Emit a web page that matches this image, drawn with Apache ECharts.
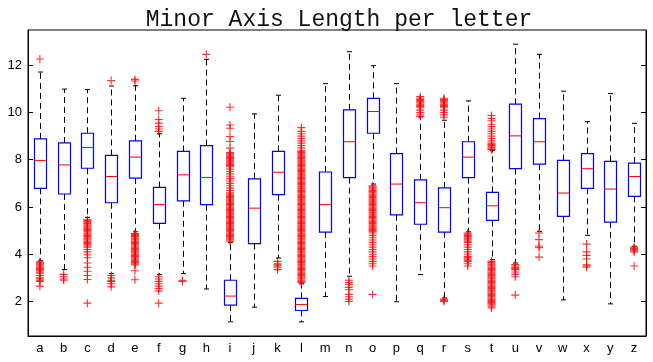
<!DOCTYPE html>
<html>
<head>
<meta charset="utf-8">
<script src="https://cdn.jsdelivr.net/npm/echarts@6/dist/echarts.min.js"></script>
<style>html,body{margin:0;padding:0;background:#fff;}#c{width:653px;height:362px;}</style>
</head>
<body>
<div id="c"></div>
<script>
const categories = ['a','b','c','d','e','f','g','h','i','j','k','l','m','n','o','p','q','r','s','t','u','v','w','x','y','z'];
const yTicks = [2, 4, 6, 8, 10, 12];
// box statistics per letter
const lowerWhisker = [3.72, 3.35, 5.56, 3.18, 4.95, 3.14, 3.18, 2.53, 1.14, 1.76, 3.84, 1.14, 2.21, 3.07, 6.97, 1.99, 3.14, 2.15, 4.95, 3.77, 3.63, 4.97, 2.07, 4.80, 1.90, 4.34];
const q1Values     = [6.79, 6.55, 7.64, 6.18, 7.22, 5.31, 6.26, 6.10, 1.85, 4.45, 6.52, 1.62, 4.94, 7.24, 9.12, 5.67, 5.27, 4.94, 7.24, 5.43, 7.62, 7.81, 5.60, 6.79, 5.36, 6.45];
const medianValues = [7.97, 7.78, 8.52, 7.29, 8.11, 6.10, 7.36, 7.25, 2.23, 5.95, 7.47, 1.87, 6.10, 8.76, 10.04, 6.97, 6.18, 5.97, 8.11, 6.05, 9.01, 8.76, 6.59, 7.62, 6.76, 7.29];
const q3Values     = [8.88, 8.71, 9.12, 8.18, 8.80, 6.83, 8.35, 8.60, 2.90, 7.19, 8.35, 2.13, 7.48, 10.11, 10.60, 8.26, 7.15, 6.81, 8.76, 6.62, 10.35, 9.74, 7.97, 8.26, 7.93, 7.86];
const upperWhisker = [11.71, 10.99, 10.97, 11.12, 11.13, 9.10, 10.60, 12.25, 4.50, 9.94, 10.73, 2.75, 11.22, 12.57, 11.98, 11.22, 9.81, 9.67, 10.49, 8.40, 12.89, 12.46, 10.90, 9.61, 10.80, 9.54];
const outlierValues = [
  [12.26, 3.68, 3.64, 3.6, 3.55, 3.5, 3.45, 3.4, 3.35, 3.3, 3.25, 3.2, 3.1, 3.0, 2.95, 2.9, 2.85, 2.65],
  [3.15, 3.05, 2.95, 2.9],
  [5.46, 5.43, 5.4, 5.35, 5.3, 5.25, 5.2, 5.15, 5.1, 5.05, 5.0, 4.95, 4.9, 4.85, 4.8, 4.75, 4.7, 4.65, 4.6, 4.55, 4.5, 4.45, 4.4, 4.35, 4.3, 4.2, 4.1, 3.98, 3.85, 3.63, 3.45, 3.28, 3.1, 2.93, 1.93],
  [11.35, 3.1, 3.0, 2.9, 2.85, 2.75, 2.62],
  [11.4, 11.33, 4.88, 4.84, 4.8, 4.75, 4.7, 4.65, 4.6, 4.55, 4.5, 4.45, 4.4, 4.35, 4.3, 4.25, 4.2, 4.15, 4.1, 4.05, 4.0, 3.95, 3.9, 3.85, 3.8, 3.75, 3.7, 3.65, 3.6, 3.55, 3.3, 2.92],
  [10.07, 9.7, 9.55, 9.4, 9.3, 9.2, 3.05, 2.95, 2.85, 2.75, 2.65, 2.55, 2.45, 1.93],
  [2.9, 2.85],
  [12.46],
  [10.22, 9.47, 9.33, 8.98, 8.77, 8.49, 8.3, 8.25, 8.2, 8.15, 8.1, 8.05, 8.0, 7.95, 7.9, 7.85, 7.8, 7.75, 7.7, 7.6, 7.5, 7.4, 7.3, 7.2, 7.1, 7.0, 6.9, 6.8, 6.7, 6.6, 6.55, 6.5, 6.45, 6.4, 6.35, 6.3, 6.25, 6.2, 6.15, 6.1, 6.05, 6.0, 5.95, 5.9, 5.85, 5.8, 5.75, 5.7, 5.65, 5.6, 5.55, 5.5, 5.45, 5.4, 5.35, 5.3, 5.25, 5.2, 5.15, 5.1, 5.05, 5.0, 4.95, 4.9, 4.85, 4.8, 4.75, 4.7, 4.65, 4.6, 4.55],
  [],
  [3.7, 3.6, 3.55, 3.5, 3.45, 3.35],
  [9.36, 9.2, 9.1, 9.0, 8.9, 8.8, 8.7, 8.6, 8.5, 8.4, 8.35, 8.3, 8.25, 8.2, 8.15, 8.1, 8.05, 8.0, 7.95, 7.9, 7.85, 7.8, 7.75, 7.7, 7.65, 7.6, 7.55, 7.5, 7.45, 7.4, 7.35, 7.3, 7.25, 7.2, 7.15, 7.1, 7.05, 7.0, 6.95, 6.9, 6.85, 6.8, 6.75, 6.7, 6.65, 6.6, 6.55, 6.5, 6.45, 6.4, 6.35, 6.3, 6.25, 6.2, 6.15, 6.1, 6.05, 6.0, 5.95, 5.9, 5.85, 5.8, 5.75, 5.7, 5.65, 5.6, 5.55, 5.5, 5.45, 5.4, 5.35, 5.3, 5.25, 5.2, 5.15, 5.1, 5.05, 5.0, 4.95, 4.9, 4.85, 4.8, 4.75, 4.7, 4.65, 4.6, 4.55, 4.5, 4.45, 4.4, 4.35, 4.3, 4.25, 4.2, 4.15, 4.1, 4.05, 4.0, 3.95, 3.9, 3.85, 3.8, 3.75, 3.7, 3.65, 3.6, 3.55, 3.5, 3.45, 3.4, 3.35, 3.3, 3.25, 3.2, 3.15, 3.1, 3.05, 3.0, 2.95, 2.9, 2.85, 2.8],
  [],
  [2.9, 2.8, 2.72, 2.6, 2.5, 2.3, 2.2, 2.1, 2.0],
  [6.9, 6.85, 6.8, 6.75, 6.7, 6.65, 6.6, 6.55, 6.5, 6.45, 6.4, 6.35, 6.3, 6.25, 6.2, 6.15, 6.1, 6.05, 6.0, 5.95, 5.9, 5.85, 5.8, 5.75, 5.7, 5.65, 5.6, 5.55, 5.5, 5.45, 5.4, 5.35, 5.3, 5.25, 5.2, 5.15, 5.1, 5.05, 5.0, 4.95, 4.9, 4.8, 4.7, 4.6, 4.5, 4.4, 4.3, 4.2, 4.1, 4.0, 3.9, 3.8, 3.7, 3.6, 3.5, 2.3],
  [],
  [10.67, 10.6, 10.55, 10.5, 10.45, 10.4, 10.35, 10.3, 10.25, 10.2, 10.1, 10.0, 9.9, 9.83],
  [10.6, 10.55, 10.5, 10.45, 10.4, 10.35, 10.3, 10.25, 10.2, 10.1, 10.0, 9.9, 9.8, 2.1, 2.05, 2.0],
  [4.9, 4.85, 4.8, 4.75, 4.7, 4.65, 4.6, 4.55, 4.5, 4.4, 4.3, 4.2, 4.1, 4.0, 3.9, 3.85, 3.8, 3.75, 3.7, 3.6, 3.5],
  [9.87, 9.75, 9.65, 9.5, 9.4, 9.3, 9.2, 9.1, 9.0, 8.9, 8.8, 8.7, 8.65, 8.6, 8.55, 8.5, 8.45, 8.42, 3.7, 3.65, 3.6, 3.55, 3.5, 3.45, 3.4, 3.35, 3.3, 3.25, 3.2, 3.15, 3.1, 3.05, 3.0, 2.95, 2.9, 2.85, 2.8, 2.75, 2.7, 2.65, 2.6, 2.55, 2.5, 2.45, 2.4, 2.35, 2.3, 2.25, 2.2, 2.15, 2.1, 2.05, 2.0, 1.95, 1.9, 1.85, 1.8, 1.73],
  [3.56, 3.5, 3.45, 3.4, 3.35, 3.25, 3.15, 3.05, 2.27],
  [4.9, 4.62, 4.35, 4.28, 3.88],
  [],
  [4.43, 4.1, 3.95, 3.8, 3.55, 3.5, 3.45],
  [],
  [4.3, 4.25, 4.2, 4.15, 4.1, 3.5]
];

const boxData = categories.map((c, i) => [i, lowerWhisker[i], q1Values[i], medianValues[i], q3Values[i], upperWhisker[i]]);
const outlierData = [];
outlierValues.forEach((arr, i) => arr.forEach(v => outlierData.push([i, v])));

const Y_MIN = 0.54, Y_MAX = 13.49;
const chart = echarts.init(document.getElementById('c'), null, {renderer: 'canvas'});
const labelFont = {color: '#000', fontSize: 13, fontFamily: 'Liberation Sans, Arial, sans-serif'};

chart.setOption({
  animation: false,
  backgroundColor: '#fff',
  title: {
    text: 'Minor Axis Length per letter',
    left: 334, top: 3, textAlign: 'center',
    textStyle: {fontFamily: 'Liberation Mono, Courier New, monospace', fontSize: 23, fontWeight: 'normal', color: '#111'}
  },
  grid: {left: 28, right: 7, top: 30, bottom: 26, show: true, borderColor: '#000', borderWidth: 1, backgroundColor: 'transparent'},
  xAxis: {
    type: 'category', data: categories, boundaryGap: true,
    axisLine: {show: true, lineStyle: {color: '#000', width: 1}},
    axisTick: {show: false},
    axisLabel: Object.assign({margin: 6, interval: 0}, labelFont),
    splitLine: {show: false}
  },
  yAxis: [
    {
      type: 'value', min: Y_MIN, max: Y_MAX, position: 'left',
      axisLine: {show: true, lineStyle: {color: '#000', width: 1}},
      axisTick: {show: true, inside: true, length: 5, customValues: yTicks, lineStyle: {color: '#000'}},
      axisLabel: Object.assign({margin: 6, customValues: yTicks}, labelFont),
      splitLine: {show: false}
    },
    {
      type: 'value', min: Y_MIN, max: Y_MAX, position: 'right',
      axisLine: {show: true, lineStyle: {color: '#000', width: 1}},
      axisTick: {show: true, inside: true, length: 5, customValues: yTicks, lineStyle: {color: '#000'}},
      axisLabel: {show: false},
      splitLine: {show: false}
    }
  ],
  series: [
    {
      type: 'custom',
      data: boxData,
      encode: {x: 0, y: [1, 2, 3, 4, 5]},
      renderItem: function (params, api) {
        const i = api.value(0);
        const pLo = api.coord([i, api.value(1)]);
        const pQ1 = api.coord([i, api.value(2)]);
        const pMed = api.coord([i, api.value(3)]);
        const pQ3 = api.coord([i, api.value(4)]);
        const pHi = api.coord([i, api.value(5)]);
        const x = Math.round(pMed[0]) + 0.5;
        const hw = 6, cw = 2.5;
        const dash = {stroke: '#000', lineWidth: 1, lineDash: [6, 4]};
        const solid = {stroke: '#000', lineWidth: 1};
        return {
          type: 'group',
          children: [
            {type: 'line', shape: {x1: x, y1: pQ3[1], x2: x, y2: pHi[1]}, style: dash},
            {type: 'line', shape: {x1: x, y1: pQ1[1], x2: x, y2: pLo[1]}, style: dash},
            {type: 'line', shape: {x1: x - cw, y1: pHi[1], x2: x + cw, y2: pHi[1]}, style: solid},
            {type: 'line', shape: {x1: x - cw, y1: pLo[1], x2: x + cw, y2: pLo[1]}, style: solid},
            {type: 'rect', shape: {x: x - hw, y: pQ3[1], width: hw * 2, height: pQ1[1] - pQ3[1]}, style: {fill: '#fff', stroke: '#0000ff', lineWidth: 1.2}},
            {type: 'line', shape: {x1: x - hw, y1: pMed[1], x2: x + hw, y2: pMed[1]}, style: {stroke: '#ff0000', lineWidth: 1}}
          ]
        };
      },
      z: 2
    },
    {
      type: 'scatter',
      data: outlierData,
      symbol: 'path://M0,4.3H10V5.7H0ZM4.3,0H5.7V10H4.3Z',
      symbolSize: 8,
      itemStyle: {color: '#ff0000'},
      z: 3
    }
  ]
});
</script>
</body>
</html>
